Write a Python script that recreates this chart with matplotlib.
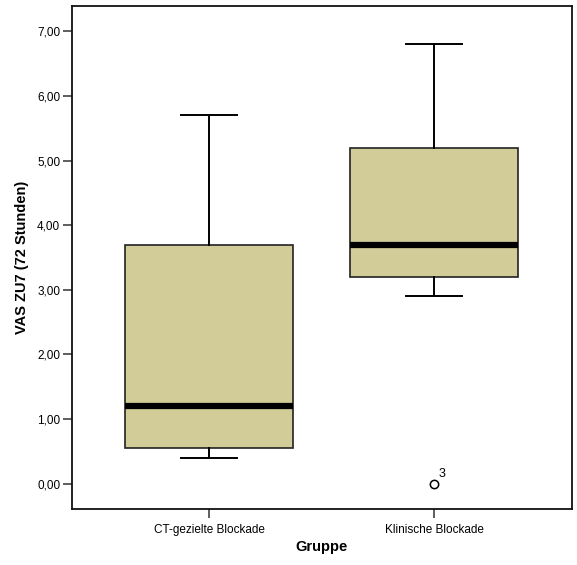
import matplotlib
matplotlib.use('Agg')
import matplotlib.pyplot as plt
from matplotlib.ticker import FuncFormatter

plt.rcParams['font.family'] = ['Liberation Sans', 'DejaVu Sans']

groups = ['CT-gezielte Blockade', 'Klinische Blockade']
whisker_low = [0.4, 2.9]
q1 = [0.55, 3.2]
medians = [1.2, 3.7]
q3 = [3.7, 5.2]
whisker_high = [5.7, 6.8]
outliers = [[], [0.0]]
outlier_ids = [[], ['3']]

box_color = '#D2CC98'

stats = []
for i, name in enumerate(groups):
    stats.append({
        'label': name,
        'whislo': whisker_low[i],
        'q1': q1[i],
        'med': medians[i],
        'q3': q3[i],
        'whishi': whisker_high[i],
        'fliers': outliers[i],
    })

fig = plt.figure(figsize=(5.77, 5.65), dpi=100)
ax = fig.add_axes([0.1248, 0.0991, 0.8665, 0.8903])

ax.bxp(stats, positions=[0, 1], widths=0.75, patch_artist=True,
       showfliers=True, capwidths=0.245,
       boxprops=dict(facecolor=box_color, edgecolor='#222222', linewidth=1.2),
       medianprops=dict(color='black', linewidth=4.5, solid_capstyle='butt'),
       whiskerprops=dict(color='black', linewidth=1.4),
       capprops=dict(color='black', linewidth=1.4),
       flierprops=dict(marker='o', markersize=6, markerfacecolor='white',
                       markeredgecolor='black', markeredgewidth=1.1))

for i, ids in enumerate(outlier_ids):
    for val, lab in zip(outliers[i], ids):
        ax.annotate(lab, (i, val), xytext=(3, 3), textcoords='offset points',
                    fontsize=9, ha='left', va='bottom')

ax.set_xlim(-0.609, 1.613)
ax.set_ylim(-0.39, 7.39)
ax.set_yticks(range(0, 8))
ax.yaxis.set_major_formatter(FuncFormatter(lambda v, p: f'{v:.2f}'.replace('.', ',')))
ax.set_xticks([0, 1])
ax.set_xticklabels(groups)

for s in ax.spines.values():
    s.set_linewidth(1.3)
    s.set_color('#111111')
ax.tick_params(axis='both', labelsize=8.5, length=6.5, width=1.1, color='#333333')
ax.tick_params(axis='y', pad=2)
ax.tick_params(axis='x', pad=4)

ax.set_xlabel('Gruppe', fontsize=10.5, fontweight='bold', labelpad=3)
ax.set_ylabel('VAS ZU7 (72 Stunden)', fontsize=10.5, fontweight='bold', labelpad=6)

fig.savefig('out.png', dpi=100)
